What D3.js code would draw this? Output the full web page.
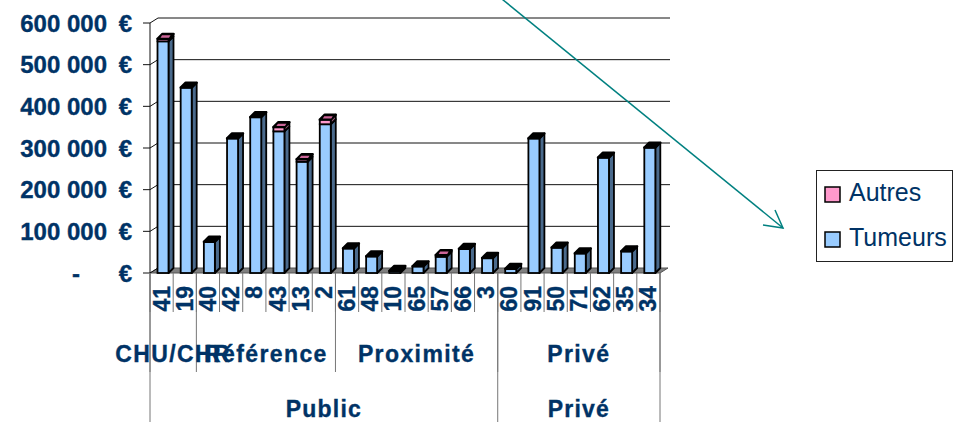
<!DOCTYPE html>
<html>
<head>
<meta charset="utf-8">
<script src="https://cdn.jsdelivr.net/npm/d3@7"></script>
<style>
  html, body { margin: 0; padding: 0; background: #fff; }
  svg { display: block; font-family: "Liberation Sans", Arial, sans-serif; }
  .lbl { paint-order: stroke; stroke: #003366; stroke-width: 0.35px; }
</style>
</head>
<body>
<svg id="chart" width="961" height="422"></svg>
<script>
// ---- data ----
const categories = ["41","19","40","42","8","43","13","2","61","48","10","65","57","66","3","60","91","50","71","62","35","34"];
const tumeurs = [556000, 445000, 75000, 323000, 374000, 340000, 267000, 357000, 59000, 40000, 5000, 16000, 39000, 58000, 36000, 10000, 323000, 61000, 47000, 277000, 52000, 301000];
const autres  = [6000, 0, 0, 0, 0, 10000, 6000, 11000, 0, 0, 0, 0, 4000, 0, 0, 0, 0, 0, 0, 0, 0, 0];
const subGroups = ["CHU/CHR", "Référence", "Proximité", "Privé"];
const subGroupSizes = [2, 6, 7, 7];
const sectors = ["Public", "Privé"];
const sectorSizes = [15, 7];
const yTicks = [0, 100000, 200000, 300000, 400000, 500000, 600000];
const seriesNames = ["Autres", "Tumeurs"];
const seriesColors = ["#FF99CC", "#99CCFF"];

// ---- layout ----
const svg = d3.select("#chart");
const navy = "#003366";
const x = d3.scaleBand().domain(categories).range([150, 660]).paddingInner(0).paddingOuter(0);
const y = d3.scaleLinear().domain([0, 600000]).range([273, 23]);
const wallDx = 8, wallDy = -5;
const dx = 5, dy = -5;
const bw = x.bandwidth();
const barOff = 7.5, barW = 11;
const pts = a => a.map(p => p.join(",")).join(" ");

// floor
svg.append("polygon")
  .attr("points", pts([[150, y(0)], [660, y(0)], [660 + wallDx, y(0) + wallDy], [150 + wallDx, y(0) + wallDy]]))
  .attr("fill", "#808080").attr("stroke", "#555").attr("stroke-width", 1);

// gridlines on back wall + connectors + ticks
const g = svg.append("g");
yTicks.forEach(v => {
  const yy = y(v);
  if (v > 0) {
    g.append("line").attr("x1", 150 + wallDx).attr("x2", 662 + wallDx)
      .attr("y1", yy + wallDy).attr("y2", yy + wallDy)
      .attr("stroke", "#111").attr("stroke-width", 1);
  }
  g.append("line").attr("x1", 150).attr("x2", 150 + wallDx)
    .attr("y1", yy).attr("y2", yy + wallDy).attr("stroke", "#111").attr("stroke-width", 1);
  g.append("line").attr("x1", 143).attr("x2", 150)
    .attr("y1", yy).attr("y2", yy).attr("stroke", "#111").attr("stroke-width", 1);
});
g.append("line").attr("x1", 150).attr("x2", 150).attr("y1", y(600000)).attr("y2", y(0))
  .attr("stroke", "#111").attr("stroke-width", 1);

// y labels
const fmt = v => v === 0 ? "-" : d3.format(",")(v).replace(/,/g, " ");
yTicks.forEach(v => {
  const yy = y(v);
  svg.append("text").attr("class", "lbl")
    .attr("x", v === 0 ? 76 : 107).attr("y", yy)
    .attr("text-anchor", v === 0 ? "middle" : "end")
    .attr("dominant-baseline", "central")
    .attr("font-size", 24).attr("font-weight", "bold").attr("fill", navy)
    .text(fmt(v));
  svg.append("text").attr("class", "lbl")
    .attr("x", 132).attr("y", yy)
    .attr("text-anchor", "end")
    .attr("dominant-baseline", "central")
    .attr("font-size", 24).attr("font-weight", "bold").attr("fill", navy)
    .text("€");
});

// bars
const sideColors = ["#9c5c7c", "#4a6a8c"];
const bars = svg.append("g");
categories.forEach((c, i) => {
  const x0 = x(c) + barOff;
  const segs = [
    { y0: y(0), y1: y(tumeurs[i]), fill: seriesColors[1], side: sideColors[1] },
    { y0: y(tumeurs[i]), y1: y(tumeurs[i] + autres[i]), fill: seriesColors[0], side: sideColors[0] }
  ];
  segs.forEach(s => {
    if (s.y0 - s.y1 <= 0) return;
    bars.append("polygon")
      .attr("points", pts([[x0 + barW, s.y1], [x0 + barW + dx, s.y1 + dy], [x0 + barW + dx, s.y0 + dy], [x0 + barW, s.y0]]))
      .attr("fill", s.side).attr("stroke", "#000").attr("stroke-width", 1.8).attr("stroke-linejoin", "round");
    bars.append("rect")
      .attr("x", x0).attr("y", s.y1).attr("width", barW).attr("height", s.y0 - s.y1)
      .attr("fill", s.fill).attr("stroke", "#000").attr("stroke-width", 1.8);
  });
  const top = y(tumeurs[i] + autres[i]);
  const aH = y(tumeurs[i]) - top;
  bars.append("polygon")
    .attr("points", pts([[x0, top], [x0 + dx, top + dy], [x0 + barW + dx, top + dy], [x0 + barW, top]]))
    .attr("fill", "#000").attr("stroke", "#000").attr("stroke-width", 2.4).attr("stroke-linejoin", "round");
  if (autres[i] > 0 && aH < 5) {
    bars.append("polygon")
      .attr("points", pts([[x0 + 3, top - 1.2], [x0 + 4.5, top - 3.5], [x0 + barW + 2, top - 3.5], [x0 + barW + 0.5, top - 1.2]]))
      .attr("fill", "#cc6699");
  }
});

// category dividers & labels
const axisG = svg.append("g");
const lineCol = "#777";
for (let k = 0; k <= categories.length; k++) {
  const xx = 150 + k * bw;
  axisG.append("line").attr("x1", xx).attr("x2", xx).attr("y1", y(0)).attr("y2", 312)
    .attr("stroke", lineCol).attr("stroke-width", 1);
}
categories.forEach(c => {
  axisG.append("text").attr("class", "lbl")
    .attr("transform", `translate(${x(c) + bw / 2},286) rotate(-90)`)
    .attr("text-anchor", "end").attr("dominant-baseline", "central")
    .attr("font-size", 23).attr("font-weight", "bold").attr("fill", navy)
    .text(c);
});

// sub-groups
let acc = 0;
const subBounds = [0];
subGroupSizes.forEach(s => { acc += s; subBounds.push(acc); });
subBounds.forEach(b => {
  const xx = 150 + b * bw;
  axisG.append("line").attr("x1", xx).attr("x2", xx).attr("y1", y(0)).attr("y2", 372)
    .attr("stroke", lineCol).attr("stroke-width", 1);
});
subGroups.forEach((name, k) => {
  const cx = 150 + (subBounds[k] + subBounds[k + 1]) / 2 * bw;
  axisG.append("text").attr("class", "lbl").attr("x", cx).attr("y", 362)
    .attr("text-anchor", "middle").attr("font-size", 23).attr("font-weight", "bold")
    .attr("letter-spacing", 1.4).attr("fill", navy).text(name);
});

// sectors
acc = 0;
const secBounds = [0];
sectorSizes.forEach(s => { acc += s; secBounds.push(acc); });
secBounds.forEach(b => {
  const xx = 150 + b * bw;
  axisG.append("line").attr("x1", xx).attr("x2", xx).attr("y1", y(0)).attr("y2", 422)
    .attr("stroke", lineCol).attr("stroke-width", 1);
});
sectors.forEach((name, k) => {
  const cx = 150 + (secBounds[k] + secBounds[k + 1]) / 2 * bw;
  axisG.append("text").attr("class", "lbl").attr("x", cx).attr("y", 417)
    .attr("text-anchor", "middle").attr("font-size", 23).attr("font-weight", "bold")
    .attr("letter-spacing", 1.2).attr("fill", navy).text(name);
});

// arrow
const teal = "#008080";
svg.append("line").attr("x1", 497).attr("y1", -5).attr("x2", 783).attr("y2", 228)
  .attr("stroke", teal).attr("stroke-width", 1.5);
svg.append("polyline").attr("points", "763,225 783,228 775,210")
  .attr("fill", "none").attr("stroke", teal).attr("stroke-width", 1.5);

// legend
const lg = svg.append("g");
lg.append("rect").attr("x", 816.5).attr("y", 170.5).attr("width", 136).attr("height", 91)
  .attr("fill", "#fff").attr("stroke", "#222").attr("stroke-width", 1);
seriesNames.forEach((n, k) => {
  const yy = 187 + k * 45;
  lg.append("rect").attr("x", 825).attr("y", yy).attr("width", 15).attr("height", 15)
    .attr("fill", seriesColors[k]).attr("stroke", "#000").attr("stroke-width", 1.5);
  lg.append("text").attr("x", 849).attr("y", yy + 13.5)
    .attr("font-size", 25).attr("fill", navy).text(n);
});
</script>
</body>
</html>
